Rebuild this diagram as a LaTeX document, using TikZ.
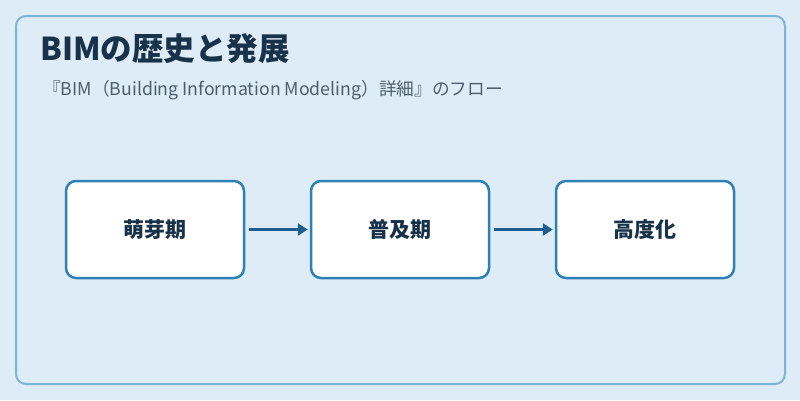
\documentclass[tikz,border=0pt]{standalone}
\usepackage{fontspec}
\setmainfont{Noto Sans CJK JP}
\usetikzlibrary{arrows.meta}
\definecolor{bgblue}{HTML}{DDECF7}
\definecolor{frameline}{HTML}{7DB4D6}
\definecolor{boxline}{HTML}{2F80B7}
\definecolor{arrowblue}{HTML}{1F5E8C}
\definecolor{darktext}{HTML}{18324A}
\definecolor{greytext}{HTML}{4D5E6E}
\begin{document}
\begin{tikzpicture}[x=1pt,y=-1pt,
  phase/.style={draw=boxline, line width=2.5pt, fill=white, rounded corners=10pt,
    minimum width=178pt, minimum height=97pt, text=darktext,
    font=\bfseries\fontsize{21}{25}\selectfont},
  flow/.style={draw=arrowblue, line width=3pt, shorten <=4pt, shorten >=2pt,
    -{Triangle[length=10pt,width=12pt]}}]
	  % background and frame
	  \fill[bgblue] (0,0) rectangle (800,400);
	  \draw[frameline, line width=2pt, rounded corners=10pt] (16,16) rectangle (785,384);

	  \node[anchor=west, inner sep=0, text=darktext, font=\bfseries\fontsize{31.5}{36}\selectfont] (title) at (40,48.5) {BIMの歴史と発展};
	  \node[anchor=west, inner sep=0, text=greytext, font=\fontsize{17.7}{21}\selectfont] (sub) at (43,90) {『BIM（Building Information Modeling）詳細』のフロー};

	  \node[phase] (hoga) at (155,229.5) {萌芽期};
	  \node[phase] (fukyu) at (400,229.5) {普及期};
	  \node[phase] (kodo) at (645,229.5) {高度化};

	  \draw[flow] (hoga) -- (fukyu);
	  \draw[flow] (fukyu) -- (kodo);
	\end{tikzpicture}
\end{document}
